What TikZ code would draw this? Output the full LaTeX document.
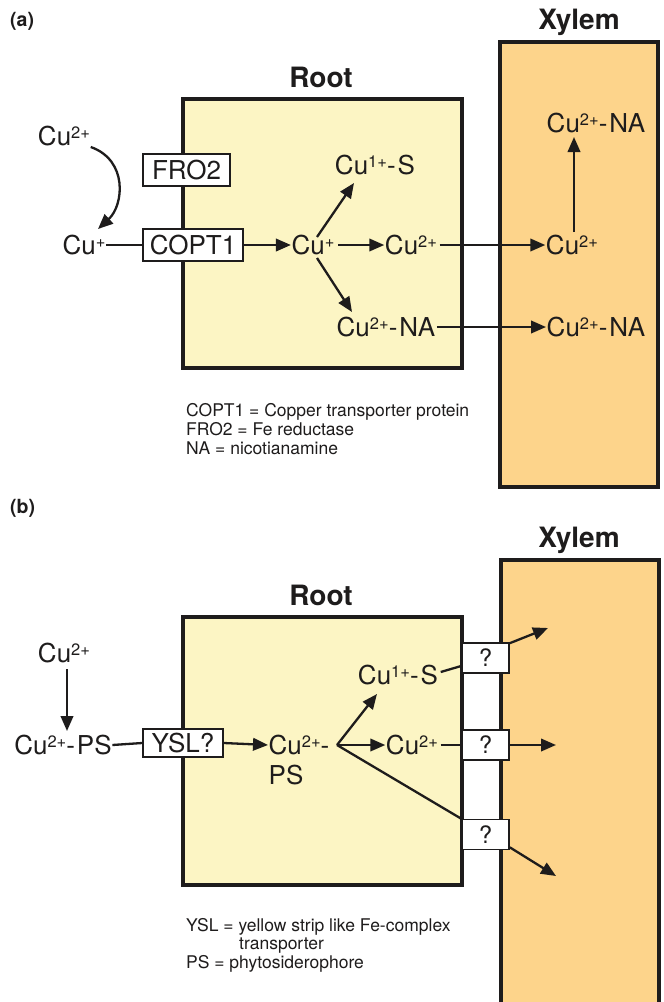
\documentclass[tikz,border=0pt]{standalone}
\usepackage{fontspec}
\setmainfont{TeX Gyre Heros}
\usetikzlibrary{arrows.meta,calc}
\definecolor{rootfill}{HTML}{FCF5C4}
\definecolor{xylfill}{HTML}{FDD48B}
\definecolor{ink}{HTML}{1E1C1C}
\newcommand\chg[1]{\raisebox{7.2pt}{\fontsize{16.5}{16.5}\selectfont #1}}
\newcommand\Cu[1]{Cu\chg{#1}}
\begin{document}
\begin{tikzpicture}[x=1pt,y=-1pt,
  region/.style={draw=ink,line width=3.4pt},
  title/.style={font=\fontsize{28}{30}\selectfont\bfseries,anchor=base,inner sep=0,text=ink},
  panel/.style={font=\fontsize{19.5}{21}\selectfont\bfseries,anchor=base west,inner sep=0,text=ink},
  lbl/.style={font=\fontsize{26}{30}\selectfont,inner sep=0.5pt,text height=18.6pt,text depth=0pt,text=ink},
  tbox/.style={draw=ink,line width=1.7pt,fill=white,font=\fontsize{26}{30}\selectfont,inner sep=0,text height=18.6pt,text depth=0pt,text=ink},
  qbox/.style={draw=ink,line width=1.7pt,fill=white,font=\fontsize{24}{28}\selectfont,inner sep=0,minimum width=47pt,minimum height=30pt,text=ink},
  legend/.style={font=\fontsize{17.5}{19}\selectfont,anchor=base west,inner sep=0,text=ink},
  arr/.style={draw=ink,line width=2.3pt,-{Triangle[length=15pt,width=12.5pt]}},
  ln/.style={draw=ink,line width=2.3pt}
]
\useasboundingbox (0,0) rectangle (664,1002);
\fill[white] (0,0) rectangle (664,1002);

% ---------------- panel (a) ----------------
\node[panel] (pa) at (10,26) {(a)};
\node[title] (xta) at (579,29) {Xylem};
\node[title] (rta) at (321,87) {Root};
\path[region,fill=rootfill] (183,99) rectangle (462,368);
\path[region,fill=xylfill] (500,42) rectangle (658,487);

\node[lbl] (cu2a) at (64,136) {\Cu{2+}};
\node[lbl] (cup) at (84,245) {\Cu{+}};
\node[tbox,minimum width=87pt,minimum height=32pt] (fro) at (186.5,170) {FRO2};
\node[tbox,minimum width=100pt,minimum height=32pt] (copt) at (193,245) {COPT1};
\node[lbl] (cuin) at (313,245) {\Cu{+}};
\node[lbl] (cus) at (375,165) {\Cu{1+}-\hspace{2pt}S};
\node[lbl] (cu2r) at (411,245) {\Cu{2+}};
\node[lbl] (cuna) at (386,327) {\Cu{2+}-\hspace{2pt}NA};
\node[lbl] (cu2x) at (572,245) {\Cu{2+}};
\node[lbl] (cunat) at (596,123) {\Cu{2+}-\hspace{2pt}NA};
\node[lbl] (cunab) at (596,327) {\Cu{2+}-\hspace{2pt}NA};

\draw[arr] ($(cu2a.east)+(0,11)$) .. controls (128,160) and (124,205) .. ($(cup.north)+(14,-6)$);
\draw[ln] (cup.east) -- (copt.west);
\draw[arr] (copt.east) -- (cuin.west);
\draw[arr] ($(cuin.north)+(4,2)$) -- ($(cus.south)+(-21,8)$);
\draw[arr] ($(cuin.south)+(4,3)$) -- ($(cuna.north)+(-34,-5)$);
\draw[arr] ($(cuin.east)+(3,0)$) -- (cu2r.west);
\draw[arr] ($(cu2r.east)+(2,0)$) -- (cu2x.west);
\draw[arr] ($(cuna.east)+(1,0)$) -- (cunab.west);
\draw[arr] ($(cu2x.north)+(2,-3)$) -- ($(cunat.south)+(-22,4)$);

\node[legend] (la1) at (186,416) {COPT1 = Copper transporter protein};
\node[legend] (la2) at (186,435) {FRO2 = Fe reductase};
\node[legend] (la3) at (186,454) {NA = nicotianamine};

% ---------------- panel (b) ----------------
\node[panel] (pb) at (10,513) {(b)};
\node[title] (xtb) at (579,547) {Xylem};
\node[title] (rtb) at (321,605) {Root};
\begin{scope}
\clip (0,0) rectangle (664,1002);
\path[region,fill=xylfill] (501,560) rectangle (659,1012);
\end{scope}
\path[region,fill=rootfill] (183,617) rectangle (462,885);

\node[lbl] (cu2b) at (64,653) {\Cu{2+}};
\node[lbl] (cups) at (63,745) {\Cu{2+}-\hspace{2pt}PS};
\node[tbox,minimum width=80pt,minimum height=28pt] (ysl) at (183,743) {YSL?};
\node[lbl,anchor=west] (cupsr) at (268,745) {\Cu{2+}-};
\node[lbl,anchor=west] (psr) at (268,775) {PS};
\coordinate (br) at (337,745);
\node[lbl] (cus1b) at (398,675) {\Cu{1+}-\hspace{2pt}S};
\node[lbl] (cu2b2) at (412,745) {\Cu{2+}};
\node[qbox] (q1) at (485.5,658) {?};
\node[qbox] (q2) at (485.5,745) {?};
\node[qbox] (q3) at (485.5,834.5) {?};
\coordinate (o1) at (548,628);
\coordinate (o2) at (556,745);
\coordinate (o3) at (556,876);

\draw[arr] ($(cu2b.south)+(3,6)$) -- ($(cups.north)+(4,-4)$);
\draw[ln] (cups.east) -- (ysl.west);
\draw[arr] (ysl.east) -- (cupsr.west);
\draw[arr] (br) -- ($(cus1b.south)+(-21,9)$);
\draw[arr] (br) -- (cu2b2.west);
\draw[ln] (br) -- (q3.north west);
\draw[ln] ($(cus1b.east)+(2,-3)$) -- ($(q1.west)+(0,8)$);
\draw[ln] ($(cu2b2.east)+(2,0)$) -- (q2.west);
\draw[arr] ($(q1.north east)+(0,1)$) -- (o1);
\draw[arr] (q2.east) -- (o2);
\draw[arr] ($(q3.south east)+(0,-3)$) -- (o3);

\node[legend] (lb1) at (186,931) {YSL = yellow strip like Fe-complex};
\node[legend] (lb2) at (239,949) {transporter};
\node[legend] (lb3) at (186,968) {PS = phytosiderophore};
\end{tikzpicture}
\end{document}
